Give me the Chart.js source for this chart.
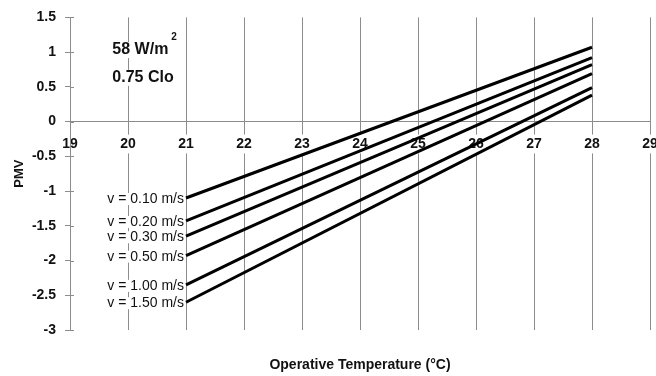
<!DOCTYPE html>
<html>
<head>
<meta charset="utf-8">
<script src="https://cdn.jsdelivr.net/npm/chart.js@4.4.0/dist/chart.umd.min.js"></script>
<style>
html, body { margin: 0; padding: 0; background: #fff; }
</style>
</head>
<body>
<canvas id="chart" width="656" height="376"></canvas>
<script>
// data
const temps = [21, 28];
const speedLabels = ['v = 0.10 m/s', 'v = 0.20 m/s', 'v = 0.30 m/s', 'v = 0.50 m/s', 'v = 1.00 m/s', 'v = 1.50 m/s'];
const pmv010 = [-1.10, 1.07];
const pmv020 = [-1.43, 0.92];
const pmv030 = [-1.65, 0.82];
const pmv050 = [-1.93, 0.69];
const pmv100 = [-2.35, 0.49];
const pmv150 = [-2.60, 0.38];
const series = [pmv010, pmv020, pmv030, pmv050, pmv100, pmv150];

const FONT = '"Liberation Sans", Arial, sans-serif';
const GRID = '#8c8c8c';

// velocity labels + conditions text
const labelPlugin = {
    id: 'labels',
    afterDatasetsDraw(chart) {
        const ctx = chart.ctx;
        const xs = chart.scales.x, ys = chart.scales.y;
        ctx.save();
        ctx.font = '14px ' + FONT;
        ctx.textAlign = 'right';
        ctx.textBaseline = 'middle';
        chart.data.datasets.forEach((ds, i) => {
            const pt = chart.getDatasetMeta(i).data[0];
            const x = pt.x - 2, y = pt.y + 1;
            const w = ctx.measureText(ds.label).width;
            ctx.fillStyle = '#fff';
            ctx.fillRect(x - w - 1, y - 6, w + 2, 12);
            ctx.fillStyle = '#111';
            ctx.fillText(ds.label, x, y);
        });

        ctx.textAlign = 'left';
        ctx.font = 'bold 16px ' + FONT;
        const tx = xs.getPixelForValue(19.73);
        const y1 = ys.getPixelForValue(1.03);
        const y2 = ys.getPixelForValue(0.63);
        let w = ctx.measureText('58 W/m').width;
        ctx.fillStyle = '#fff';
        ctx.fillRect(tx - 1, y1 - 8, w + 12, 16);
        ctx.fillRect(tx - 1, y2 - 8, ctx.measureText('0.75 Clo').width + 2, 16);
        ctx.fillStyle = '#111';
        ctx.fillText('58 W/m', tx, y1);
        ctx.fillText('0.75 Clo', tx, y2);
        ctx.font = 'bold 10px ' + FONT;
        ctx.fillText('2', tx + w + 3, y1 - 13);

        // small tick marks on the inner side of the y axis
        ctx.strokeStyle = GRID;
        ctx.lineWidth = 1;
        ys.ticks.forEach(t => {
            const py = Math.round(ys.getPixelForValue(t.value)) + 0.5;
            ctx.beginPath();
            ctx.moveTo(ys.right, py);
            ctx.lineTo(ys.right + 4, py);
            ctx.stroke();
        });
        ctx.restore();
    }
};

const noSidePad = (s) => { s.paddingLeft = 0; s.paddingRight = 0; };

new Chart(document.getElementById('chart'), {
    type: 'line',
    data: {
        datasets: series.map((vals, i) => ({
            label: speedLabels[i],
            data: temps.map((t, j) => ({ x: t, y: vals[j] })),
            borderColor: '#000',
            borderWidth: 3,
            pointRadius: 0,
            tension: 0,
            fill: false
        }))
    },
    options: {
        responsive: false,
        animation: false,
        layout: { padding: { top: 15, right: 6, left: 0, bottom: 0 } },
        plugins: {
            legend: { display: false },
            tooltip: { enabled: false }
        },
        scales: {
            x: {
                type: 'linear',
                min: 19,
                max: 29,
                position: { y: 0 },
                grid: { color: GRID, drawTicks: false },
                border: { color: GRID },
                ticks: {
                    stepSize: 1,
                    padding: 14,
                    color: '#111',
                    font: { family: FONT, size: 14, weight: 'bold' },
                    showLabelBackdrop: true,
                    backdropColor: '#fff',
                    backdropPadding: 1
                },
                afterFit: noSidePad
            },
            x2: {
                type: 'linear',
                axis: 'x',
                min: 19,
                max: 29,
                position: 'bottom',
                grid: { display: false },
                border: { display: false },
                ticks: { display: false },
                title: {
                    display: true,
                    text: 'Operative Temperature (°C)',
                    color: '#111',
                    font: { family: FONT, size: 14, weight: 'bold' },
                    padding: { top: 3, bottom: 2 }
                },
                afterFit: (s) => { s.height = 46; noSidePad(s); }
            },
            y: {
                type: 'linear',
                min: -3,
                max: 1.5,
                grid: { drawOnChartArea: false, color: GRID, tickLength: 5 },
                border: { color: GRID },
                ticks: {
                    stepSize: 0.5,
                    padding: 9,
                    color: '#111',
                    font: { family: FONT, size: 14, weight: 'bold' },
                    callback: (v) => String(Math.round(v * 10) / 10)
                },
                title: {
                    display: true,
                    text: 'PMV',
                    color: '#111',
                    font: { family: FONT, size: 13, weight: 'bold' },
                    padding: { top: 12, bottom: 0 }
                },
                afterFit: (s) => { s.width = 70; }
            }
        }
    },
    plugins: [labelPlugin]
});
</script>
</body>
</html>
